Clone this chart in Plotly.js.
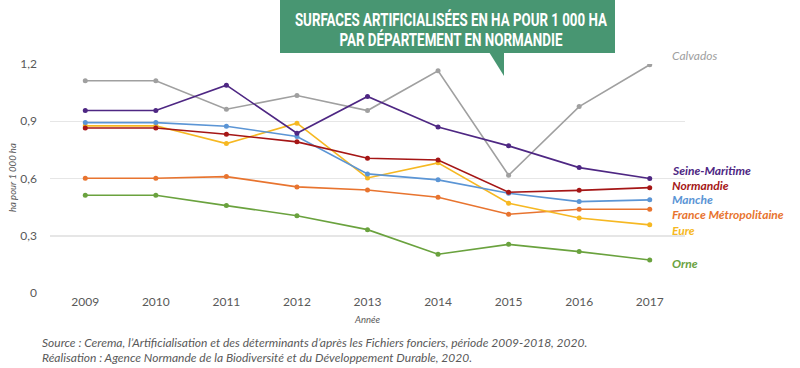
<!DOCTYPE html>
<html>
<head>
<meta charset="utf-8">
<script src="https://cdn.plot.ly/plotly-3.0.1.min.js"></script>
<style>html,body{margin:0;padding:0;background:#fff;}#chart{width:800px;height:368px;}</style>
</head>
<body>
<div id="chart"></div>
<script>
const years = ['2009','2010','2011','2012','2013','2014','2015','2016','2017'];
const calvados = [1.112, 1.112, 0.963, 1.035, 0.956, 1.164, 0.617, 0.977, 1.196];
const seineMaritime = [0.956, 0.956, 1.089, 0.837, 1.030, 0.870, 0.771, 0.657, 0.600];
const manche = [0.893, 0.893, 0.874, 0.820, 0.624, 0.593, 0.523, 0.479, 0.488];
const normandie = [0.865, 0.865, 0.832, 0.792, 0.706, 0.697, 0.528, 0.538, 0.552];
const eure = [0.876, 0.876, 0.783, 0.890, 0.603, 0.682, 0.470, 0.393, 0.357];
const franceMetro = [0.601, 0.601, 0.610, 0.556, 0.540, 0.502, 0.413, 0.439, 0.439];
const orne = [0.512, 0.512, 0.458, 0.405, 0.332, 0.203, 0.255, 0.217, 0.173];
const yTickVals = [0, 0.3, 0.6, 0.9, 1.2];
const yTickText = ['0', '0,3', '0,6', '0,9', '1,2'];
const titleLines = ['SURFACES ARTIFICIALISÉES EN HA POUR 1 000 HA', 'PAR DÉPARTEMENT EN NORMANDIE'];

const series = [
  {name: 'Calvados', y: calvados, color: '#a0a0a0'},
  {name: 'Orne', y: orne, color: '#6aa23e'},
  {name: 'France Métropolitaine', y: franceMetro, color: '#e8742f'},
  {name: 'Eure', y: eure, color: '#f6b822'},
  {name: 'Manche', y: manche, color: '#5b95d5'},
  {name: 'Normandie', y: normandie, color: '#a51616'},
  {name: 'Seine-Maritime', y: seineMaritime, color: '#4e2783'}
];

const traces = series.map(s => ({
  x: years, y: s.y, type: 'scatter', mode: 'lines+markers', name: s.name,
  line: {color: s.color, width: 1.6},
  marker: {color: s.color, size: 5},
  hoverinfo: 'skip'
}));

// pixel -> paper helpers (plot area: x 50..685, y 64..293)
const px = v => (v - 50) / 635;
const py = v => (293 - v) / 229;

const labelFont = 'Lato, "Open Sans", sans-serif';
const labels = [
  {text: 'Calvados', y: 55, color: '#a0a0a0', bold: false},
  {text: 'Seine-Maritime', y: 170.5, color: '#4e2783', bold: true},
  {text: 'Normandie', y: 185, color: '#a51616', bold: true},
  {text: 'Manche', y: 199.5, color: '#5b95d5', bold: true},
  {text: 'France Métropolitaine', y: 214, color: '#e8742f', bold: true},
  {text: 'Eure', y: 230, color: '#f6b822', bold: true},
  {text: 'Orne', y: 263, color: '#6aa23e', bold: true}
];

const annotations = labels.map(l => ({
  xref: 'paper', yref: 'paper', x: px(671), y: py(l.y), xanchor: 'left', yanchor: 'middle',
  text: l.bold ? '<b><i>' + l.text + '</i></b>' : '<i>' + l.text + '</i>',
  showarrow: false, borderpad: 0, font: {family: labelFont, size: 12, color: l.color}
}));

const titleY = [19.5, 39.5];
titleLines.forEach((t, i) => annotations.push({
  xref: 'paper', yref: 'paper', x: px(451), y: py(titleY[i]), xanchor: 'center', yanchor: 'middle',
  text: '<b>' + t + '</b>', showarrow: false, borderpad: 0,
  font: {family: 'Roboto, sans-serif', size: 18, color: '#ffffff'}
}));
annotations.push({
  xref: 'paper', yref: 'paper', x: px(12), y: py(178), xanchor: 'center', yanchor: 'middle',
  text: '<i>ha pour 1 000 ha</i>', textangle: -90, showarrow: false, borderpad: 0,
  font: {family: labelFont, size: 9.5, color: '#595959'}
});
annotations.push({
  xref: 'paper', yref: 'paper', x: px(40), y: py(342), xanchor: 'left', yanchor: 'middle',
  text: '<i>Source : Cerema, l’Artificialisation et des déterminants d’après les Fichiers fonciers, période 2009-2018, 2020.</i>',
  showarrow: false, font: {family: labelFont, size: 12, color: '#595959'}
});
annotations.push({
  xref: 'paper', yref: 'paper', x: px(40), y: py(357), xanchor: 'left', yanchor: 'middle',
  text: '<i>Réalisation : Agence Normande de la Biodiversité et du Développement Durable, 2020.</i>',
  showarrow: false, font: {family: labelFont, size: 12, color: '#595959'}
});

const bannerColor = '#489672';
const shapes = [
  {type: 'rect', xref: 'paper', yref: 'paper', x0: px(280), x1: px(615), y0: py(53), y1: py(0),
   fillcolor: bannerColor, line: {width: 0}, layer: 'above'},
  {type: 'path', xref: 'paper', yref: 'paper',
   path: 'M ' + px(489) + ' ' + py(52) + ' L ' + px(504) + ' ' + py(52) + ' L ' + px(504) + ' ' + py(76) + ' Z',
   fillcolor: bannerColor, line: {width: 0}, layer: 'above'}
];

const layout = {
  width: 800, height: 368,
  margin: {l: 50, r: 115, t: 64, b: 75},
  paper_bgcolor: '#ffffff', plot_bgcolor: '#ffffff',
  showlegend: false,
  font: {family: labelFont, color: '#595959'},
  xaxis: {
    type: 'category', range: [-0.5, 8.5], showgrid: false, zeroline: false, showline: false,
    ticks: '', tickfont: {family: labelFont, size: 12, color: '#595959'},
    title: {text: '<i>Année</i>', font: {family: labelFont, size: 9.5, color: '#595959'}, standoff: 8}
  },
  yaxis: {
    range: [0, 1.2], tickvals: yTickVals, ticktext: yTickText,
    showgrid: true, gridcolor: '#e6e6e6', gridwidth: 1.5, zeroline: false, showline: false,
    ticks: '', ticklabelstandoff: 12, tickfont: {family: labelFont, size: 12, color: '#595959'}
  },
  annotations: annotations,
  shapes: shapes
};

// condense the banner title lines to the banner's width
const titleWidths = [312, 223];
Plotly.newPlot('chart', traces, layout, {staticPlot: true, displayModeBar: false}).then(gd => {
  gd.querySelectorAll('.annotation-text').forEach(el => {
    const idx = titleLines.indexOf(el.textContent);
    if (idx >= 0) {
      el.setAttribute('textLength', titleWidths[idx]);
      el.setAttribute('lengthAdjust', 'spacingAndGlyphs');
    }
  });
});
</script>
</body>
</html>
